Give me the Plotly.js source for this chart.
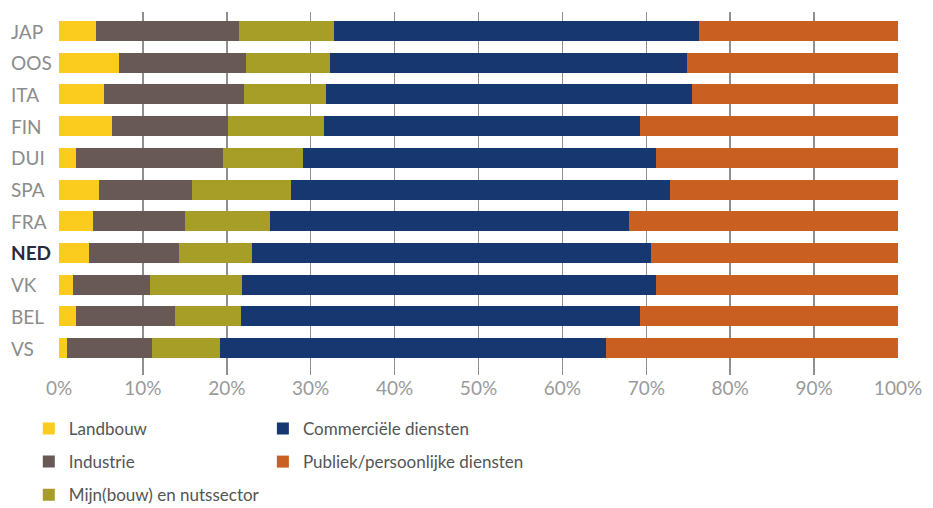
<!DOCTYPE html>
<html>
<head>
<meta charset="utf-8">
<script src="https://cdn.plot.ly/plotly-3.0.1.min.js"></script>
<style>html,body{margin:0;padding:0;background:#fff;}#chart{width:933px;height:508px;}</style>
</head>
<body>
<div id="chart"></div>
<script>
const countries = ["JAP","OOS","ITA","FIN","DUI","SPA","FRA","NED","VK","BEL","VS"];
const landbouw  = [4.4, 7.1, 5.4, 6.3, 2.0, 4.8, 4.1, 3.6, 1.7, 2.0, 1.0];
const industrie = [17.0, 15.2, 16.7, 13.9, 17.5, 11.1, 10.9, 10.7, 9.2, 11.8, 10.1];
const mijnbouw  = [11.4, 10.0, 9.7, 11.4, 9.6, 11.8, 10.2, 8.7, 10.9, 7.9, 8.1];
const commercieel = [43.5, 42.6, 43.7, 37.6, 42.0, 45.1, 42.7, 47.6, 49.3, 47.5, 46.0];
const publiek   = [23.7, 25.1, 24.5, 30.8, 28.9, 27.2, 32.1, 29.4, 28.9, 30.8, 34.8];
const seriesNames = ["Landbouw","Industrie","Mijn(bouw) en nutssector","Commerciële diensten","Publiek/persoonlijke diensten"];
const tickVals = [0,10,20,30,40,50,60,70,80,90,100];
const tickText = ["0%","10%","20%","30%","40%","50%","60%","70%","80%","90%","100%"];

const colors = ["#FBCB1E","#685957","#A69E27","#16376F","#C95F21"];
const legendOf = ["legend","legend","legend","legend2","legend2"];
const data = [landbouw, industrie, mijnbouw, commercieel, publiek];

const traces = data.map((vals, i) => ({
  type: "bar",
  orientation: "h",
  name: seriesNames[i],
  y: countries,
  x: vals,
  marker: {color: colors[i], line: {width: 0}},
  legend: legendOf[i],
  legendgroup: "g" + i,
  hoverinfo: "x+name"
}));

const annotations = countries.map(c => ({
  xref: "paper", yref: "y",
  x: -0.0596, y: c,
  xanchor: "left", yanchor: "middle",
  text: c === "NED" ? "<b>" + c + "</b>" : c,
  showarrow: false,
  font: {family: "Lato, 'Open Sans', sans-serif", size: 19, color: c === "NED" ? "#2a2a3a" : "#8c8c8c"}
}));

const legendFont = {family: "Lato, 'Open Sans', sans-serif", size: 17, color: "#555555"};

const layout = {
  width: 933, height: 508,
  margin: {l: 59, r: 35, t: 12, b: 133, autoexpand: false},
  paper_bgcolor: "#ffffff",
  plot_bgcolor: "#ffffff",
  barmode: "stack",
  bargap: 0.37,
  xaxis: {
    range: [0, 100],
    tickvals: tickVals,
    ticktext: tickText,
    showgrid: true,
    gridcolor: "#8f8f8f",
    gridwidth: 1.5,
    zeroline: false,
    showline: false,
    ticks: "",
    ticklabelstandoff: 0,
    tickfont: {family: "Lato, 'Open Sans', sans-serif", size: 19, color: "#9a9a9a"},
    fixedrange: true
  },
  yaxis: {
    type: "category",
    range: [10.85, -0.6],
    showticklabels: false,
    showgrid: false,
    zeroline: false,
    showline: false,
    ticks: "",
    fixedrange: true
  },
  annotations: annotations,
  legend: {
    orientation: "v",
    x: -0.036, xanchor: "left",
    y: -0.099, yanchor: "top",
    font: legendFont,
    tracegroupgap: 8,
    bgcolor: "rgba(0,0,0,0)"
  },
  legend2: {
    orientation: "v",
    x: 0.243, xanchor: "left",
    y: -0.099, yanchor: "top",
    font: legendFont,
    tracegroupgap: 8,
    bgcolor: "rgba(0,0,0,0)"
  },
  showlegend: true
};

Plotly.newPlot("chart", traces, layout, {displayModeBar: false, staticPlot: true});
</script>
</body>
</html>
